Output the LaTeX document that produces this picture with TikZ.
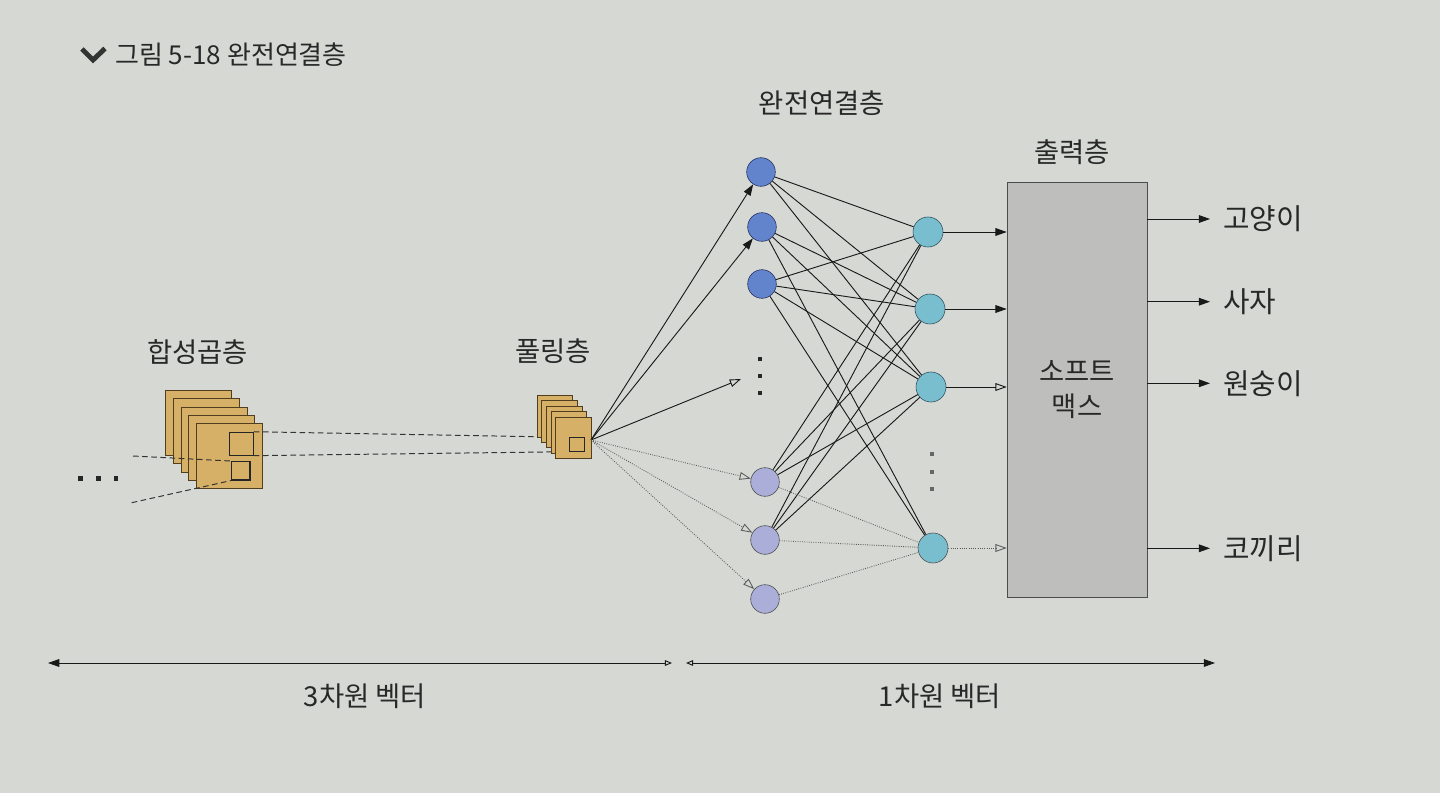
\documentclass[tikz,border=0pt]{standalone}
\usepackage{fontspec}
\setmainfont{Noto Sans CJK KR}
\usetikzlibrary{arrows.meta}

\definecolor{paper}{RGB}{214,216,212}
\definecolor{ink}{RGB}{40,40,40}
\definecolor{mapfill}{RGB}{214,176,102}
\definecolor{mapline}{RGB}{80,62,30}
\definecolor{hidblue}{RGB}{98,132,204}
\definecolor{hidline}{RGB}{35,45,95}
\definecolor{hidpale}{RGB}{170,174,216}
\definecolor{outcyan}{RGB}{120,190,206}
\definecolor{outline}{RGB}{45,80,95}
\definecolor{boxgray}{RGB}{190,191,188}

\begin{document}
\begin{tikzpicture}[x=0.025cm,y=-0.025cm,
    lbl/.style={font=\fontsize{19.5}{25}\selectfont, text=ink, inner sep=0pt},
    biglbl/.style={lbl, font=\fontsize{20.5}{25}\selectfont},
    fmap/.style={draw=mapline, fill=mapfill, anchor=north west, inner sep=0pt,
      minimum width=1.65cm, minimum height=1.625cm},
    pmap/.style={fmap, minimum width=0.89cm, minimum height=1.04cm},
    win/.style={draw=black!85, line width=0.8pt, inner sep=0pt},
    dashline/.style={draw=black!80, line width=0.7pt, dash pattern=on 4pt off 2.5pt},
    hid/.style={circle, draw=hidline, fill=hidblue, minimum size=0.715cm, inner sep=0pt},
    hidlow/.style={hid, draw=gray!60!black, fill=hidpale},
    outn/.style={circle, draw=outline, fill=outcyan, minimum size=0.75cm, inner sep=0pt},
    dotsq/.style={fill=black!85, minimum size=0.12cm, inner sep=0pt},
    link/.style={draw=black!90, line width=0.65pt},
    faint/.style={draw=gray!70!black, line width=0.6pt, densely dotted},
    headarr/.style={-{Triangle[length=8pt,width=5.5pt]}},
    openarr/.style={-{Triangle[open,length=8pt,width=5.5pt]}}]

  \fill[paper] (0,0) rectangle (1440,793);
  \useasboundingbox (0,0) rectangle (1440,793);

  % title
  \draw[black!80, line width=3.5pt] (82,49) -- (93,60) -- (105,48.5);
  \node[lbl, font=\fontsize{18.5}{22}\selectfont, anchor=west] (title) at (115,55) {그림 5-18 완전연결층};

  % labels
  \node[lbl] (convlbl) at (197.5,352) {합성곱층};
  \node[lbl] (poollbl) at (553,351) {풀링층};
  \node[lbl] (fclbl)   at (822,103) {완전연결층};
  \node[lbl] (outlbl)  at (1072,152) {출력층};

  % convolution maps
  \node[fmap] (c1) at (165,390) {};
  \node[fmap] (c2) at (172.75,398.33) {};
  \node[fmap] (c3) at (180.5,406.67) {};
  \node[fmap] (c4) at (188.25,415) {};
  \node[fmap] (c5) at (196,423.33) {};
  \node[win, minimum width=0.6cm, minimum height=0.57cm] (win1) at (241.3,443.7) {};
  \node[win, minimum width=0.46cm, minimum height=0.46cm] (win2) at (240.8,470.8) {};

  \node[dotsq] (d1) at (80.7,478.3) {};
  \node[dotsq] (d2) at (98.3,478.3) {};
  \node[dotsq] (d3) at (116,478.3) {};

  \coordinate (lt1) at (133,456);
  \coordinate (lt2) at (131.7,502.7);
  \path[dashline] (lt1) -- (win2.north west);
  \path[dashline] (lt2) -- (win2.south west);

  % pooling maps
  \coordinate (pt1) at (569,437.3);
  \coordinate (pt2) at (569,451.7);
  \path[dashline] (win1.north east) -- (pt1);
  \path[dashline] (win1.south east) -- (pt2);

  \node[pmap] (p1) at (536.8,395) {};
  \node[pmap] (p2) at (541.4,400.4) {};
  \node[pmap] (p3) at (546.1,405.8) {};
  \node[pmap] (p4) at (550.7,411.2) {};
  \node[pmap] (p5) at (555.4,416.6) {};
  \node[win, minimum width=0.38cm, minimum height=0.36cm] (pwin) at (576.7,444.5) {};

  % fully connected layer
  \node[hid]    (n1) at (761,172) {};
  \node[hid]    (n2) at (762,227) {};
  \node[hid]    (n3) at (762,284) {};
  \node[hidlow] (n4) at (765,482) {};
  \node[hidlow] (n5) at (765,540) {};
  \node[hidlow] (n6) at (765,599) {};
  \node[dotsq, minimum size=0.1cm] (hd1) at (760,359) {};
  \node[dotsq, minimum size=0.1cm] (hd2) at (760,376) {};
  \node[dotsq, minimum size=0.1cm] (hd3) at (760,393) {};
  \coordinate (hdots) at (741,379);

  \node[outn] (o1) at (928,232) {};
  \node[outn] (o2) at (930,309) {};
  \node[outn] (o3) at (931,387) {};
  \node[outn, draw=gray!60!black] (o4) at (933,548) {};
  \node[dotsq, fill=black!60, minimum size=0.09cm] (od1) at (932,454) {};
  \node[dotsq, fill=black!60, minimum size=0.09cm] (od2) at (932,472) {};
  \node[dotsq, fill=black!60, minimum size=0.09cm] (od3) at (932,489) {};

  \coordinate (fan) at (591,440);
  \path (fan) edge[link, headarr] (n1);
  \path (fan) edge[link, headarr] (n2);
  \path (fan) edge[link, openarr] (hdots);
  \path (fan) edge[faint, openarr] (n4);
  \path (fan) edge[faint, openarr] (n5);
  \path (fan) edge[faint, openarr] (n6);

  \begin{scope}[every edge/.style={link}]
    \path (n1) edge (o1);
    \path (n1) edge (o2);
    \path (n1) edge (o3);
    \path (n2) edge (o2);
    \path (n2) edge (o3);
    \path (n2) edge (o4);
    \path (n3) edge (o1);
    \path (n3) edge (o2);
    \path (n3) edge (o3);
    \path (n3) edge (o4);
    \path (n4) edge (o1);
    \path (n4) edge (o2);
    \path (n4) edge (o3);
    \path (n5) edge (o1);
    \path (n5) edge (o2);
    \path (n5) edge (o3);
  \end{scope}
  \begin{scope}[every edge/.style={faint}]
    \path (n4) edge (o4);
    \path (n5) edge (o4);
    \path (n6) edge (o4);
  \end{scope}

  % output layer
  \node[lbl, draw=black!70, fill=boxgray, align=center,
    minimum width=3.5cm, minimum height=10.375cm] (soft) at (1077,389.5) {소프트\\맥스};

  \path (o1) edge[link, headarr] (soft.west |- o1);
  \path (o2) edge[link, headarr] (soft.west |- o2);
  \path (o3) edge[link, openarr] (soft.west |- o3);
  \path (o4) edge[faint, openarr] (soft.west |- o4);

  \node[biglbl, anchor=west] (cat)      at (1223,219)   {고양이};
  \node[biglbl, anchor=west] (lion)     at (1223,301.7) {사자};
  \node[biglbl, anchor=west] (monkey)   at (1223,383.3) {원숭이};
  \node[biglbl, anchor=west] (elephant) at (1223,548.3) {코끼리};

  \path (soft.east |- cat)      edge[link, headarr] ([xshift=-0.325cm]cat.west);
  \path (soft.east |- lion)     edge[link, headarr] ([xshift=-0.325cm]lion.west);
  \path (soft.east |- monkey)   edge[link, headarr] ([xshift=-0.325cm]monkey.west);
  \path (soft.east |- elephant) edge[link, headarr] ([xshift=-0.325cm]elephant.west);

  % vector extent
  \coordinate (vl)  at (48,663);
  \coordinate (vm1) at (672,663);
  \coordinate (vm2) at (686,663);
  \coordinate (vr)  at (1215,663);
  \draw[link, {Triangle[length=8pt,width=5.5pt]}-{Triangle[open,length=5pt,width=4pt]}] (vl) -- (vm1);
  \draw[link, {Triangle[open,length=5pt,width=4pt]}-{Triangle[length=8pt,width=5.5pt]}] (vm2) -- (vr);
  \node[lbl] (three) at (365,696) {3차원 벡터};
  \node[lbl] (one)   at (940,696) {1차원 벡터};

\end{tikzpicture}
\end{document}
